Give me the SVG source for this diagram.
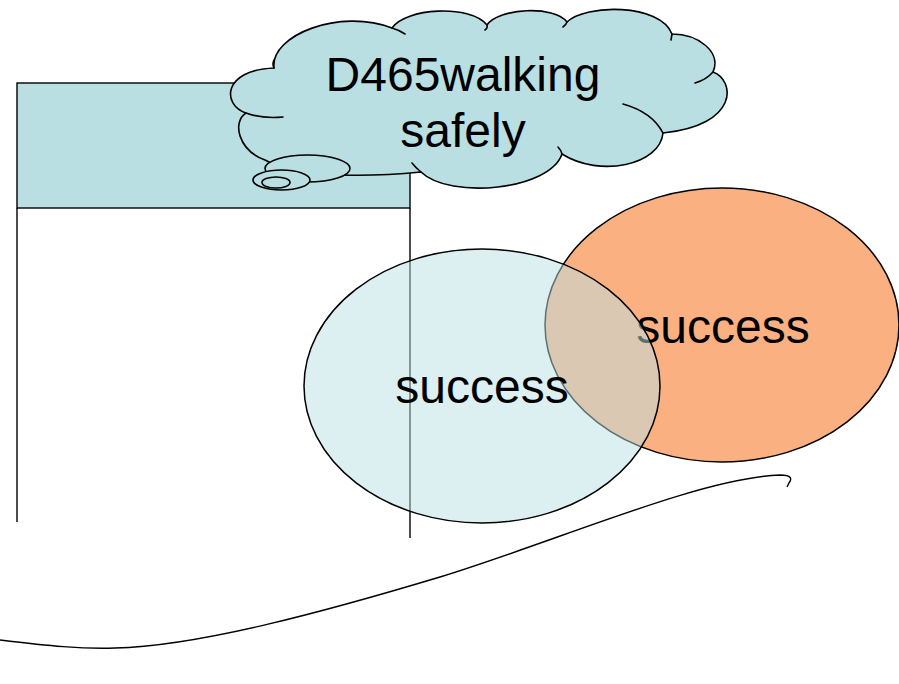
<svg xmlns="http://www.w3.org/2000/svg" width="899" height="684" viewBox="0 0 899 684">
<style>
.ln{fill:none;stroke:#000;stroke-width:1.4}
.cloud{fill:#BADFE3;stroke:#000;stroke-width:1.6;stroke-linejoin:round}
.tail{fill:none;stroke:#000;stroke-width:1.6;stroke-linecap:round}
.lbl{font-family:"Liberation Sans",Arial,sans-serif;font-size:48px;fill:#000;text-anchor:middle}
</style>
<rect width="899" height="684" fill="#fff"/>
<g id="table">
<rect x="17" y="83" width="393" height="125" fill="#BADFE3" stroke="#000" stroke-width="1.4"/>
<line class="ln" x1="17" y1="208" x2="17" y2="522"/>
<line class="ln" x1="410" y1="208" x2="410" y2="538"/>
</g>
<g id="orange-ellipse">
<ellipse cx="722" cy="325" rx="177" ry="137" fill="#FAB080" stroke="#000" stroke-width="1.5"/>
<text class="lbl" x="723" y="343">success</text>
</g>
<g id="blue-ellipse">
<ellipse cx="482" cy="386" rx="178" ry="137" fill="#BADFE3" fill-opacity="0.5" stroke="#000" stroke-width="1.5"/>
<text class="lbl" x="482" y="403">success</text>
</g>
<g id="cloud">
<path class="cloud" d="M274,68 C270,35 340,8 392,28 C405,8 470,4 487,25 C498,8 555,5 567,22 C585,4 660,3 672,34 C698,34 722,52 713,72 C735,80 740,125 663,133 C660,165 600,178 562,154 C550,190 450,200 421,172 C380,176 300,180 265,160 C238,150 232,122 246,113 C222,105 222,70 274,68 Z"/>
<path class="tail" d="M246,113 Q262,119 283,117 M392,28 Q399,30 405,34 M487,25 Q488,28 485,30 M567,22 Q566,25 563,27 M672,34 L671,40 M713,72 Q706,80 695,83 M623,104 Q652,112 663,133 M562,154 Q561,150 558,147 M421,172 Q415,167 412,163 M274,68 Q272,64 274,60"/>
<ellipse class="cloud" cx="307.5" cy="168.5" rx="42.5" ry="13.5"/>
<ellipse class="cloud" cx="281.5" cy="180" rx="28.5" ry="10"/>
<ellipse class="cloud" cx="276" cy="182.5" rx="14" ry="5.5"/>
<text class="lbl" x="463" y="91">D465walking</text>
<text class="lbl" x="463" y="147">safely</text>
</g>
<g id="curve">
<path class="ln" stroke-width="1.6" d="M0,640 C50,646 80,649 115,648 C200,646 330,610 440,577 C560,540 700,478 780,475 C792,475 792,479 789,483 L787,487"/>
</g>
</svg>
